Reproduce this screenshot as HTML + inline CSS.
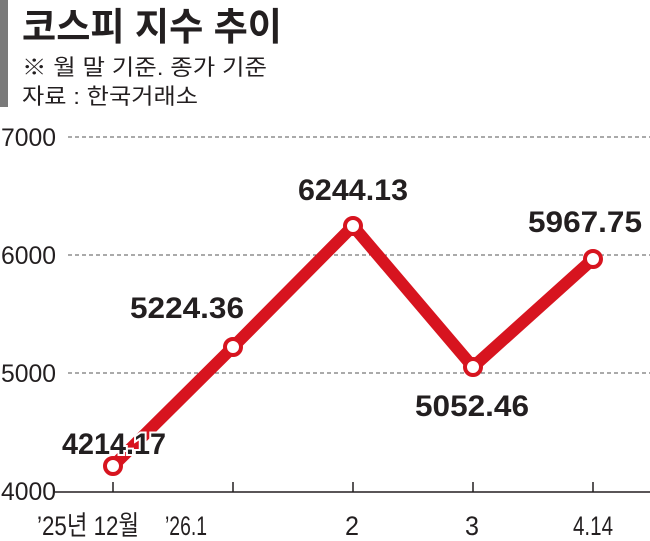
<!DOCTYPE html>
<html><head><meta charset="utf-8"><style>
body{margin:0;background:#fff;width:650px;height:541px;overflow:hidden}
svg{display:block}
text{font-family:"Liberation Sans","Noto Sans CJK KR",sans-serif}
</style></head><body>
<svg width="650" height="541" viewBox="0 0 650 541">
<rect x="0" y="0" width="8" height="107" fill="#7a7a7a"/>
<text x="22" y="40" font-size="38" font-weight="bold" fill="#231f20" textLength="260" lengthAdjust="spacingAndGlyphs">코스피 지수 추이</text>
<text x="22" y="75" font-size="22" fill="#231f20" textLength="245" lengthAdjust="spacingAndGlyphs">※ 월 말 기준. 종가 기준</text>
<text x="22" y="104" font-size="22" fill="#231f20" textLength="176" lengthAdjust="spacingAndGlyphs">자료 : 한국거래소</text>
<g stroke="#555" stroke-width="1" stroke-dasharray="4,3">
<line x1="68" y1="137" x2="650" y2="137"/>
<line x1="68" y1="255" x2="650" y2="255"/>
<line x1="68" y1="373" x2="650" y2="373"/>
</g>
<g font-size="25" fill="#231f20">
<text x="1" y="146" textLength="55" lengthAdjust="spacingAndGlyphs">7000</text>
<text x="1" y="264" textLength="55" lengthAdjust="spacingAndGlyphs">6000</text>
<text x="1" y="382" textLength="55" lengthAdjust="spacingAndGlyphs">5000</text>
<text x="1" y="500" textLength="55" lengthAdjust="spacingAndGlyphs">4000</text>
</g>
<line x1="55" y1="492" x2="650" y2="492" stroke="#231f20" stroke-width="1.5"/>
<g stroke="#231f20" stroke-width="1.5">
<line x1="113" y1="482" x2="113" y2="492"/>
<line x1="233" y1="482" x2="233" y2="492"/>
<line x1="353" y1="482" x2="353" y2="492"/>
<line x1="473" y1="482" x2="473" y2="492"/>
<line x1="593" y1="482" x2="593" y2="492"/>
</g>
<g font-size="27" fill="#231f20">
<text x="37" y="535" textLength="102" lengthAdjust="spacingAndGlyphs">’25년 12월</text>
<text x="165" y="535" textLength="42" lengthAdjust="spacingAndGlyphs">’26.1</text>
<text x="345" y="535" textLength="14" lengthAdjust="spacingAndGlyphs">2</text>
<text x="465" y="535" textLength="14" lengthAdjust="spacingAndGlyphs">3</text>
<text x="573" y="535" textLength="40" lengthAdjust="spacingAndGlyphs">4.14</text>
</g>
<polyline points="113,466 233,347 353,226 473,367 593,259" fill="none" stroke="#d7141f" stroke-width="12" stroke-linejoin="miter"/>
<g font-size="30" font-weight="bold" fill="#231f20" stroke="#fff" stroke-width="4" paint-order="stroke">
<text x="62" y="454" textLength="104" lengthAdjust="spacingAndGlyphs">4214.17</text>
<text x="130" y="318" textLength="114" lengthAdjust="spacingAndGlyphs">5224.36</text>
<text x="298" y="200" textLength="110" lengthAdjust="spacingAndGlyphs">6244.13</text>
<text x="415" y="416" textLength="114" lengthAdjust="spacingAndGlyphs">5052.46</text>
<text x="528" y="232" textLength="114" lengthAdjust="spacingAndGlyphs">5967.75</text>
</g>
<g fill="#fff" stroke="#d7141f" stroke-width="4">
<circle cx="113" cy="466" r="8"/>
<circle cx="233" cy="347" r="8"/>
<circle cx="353" cy="226" r="8"/>
<circle cx="473" cy="367" r="8"/>
<circle cx="593" cy="259" r="8"/>
</g>
</svg>
</body></html>
